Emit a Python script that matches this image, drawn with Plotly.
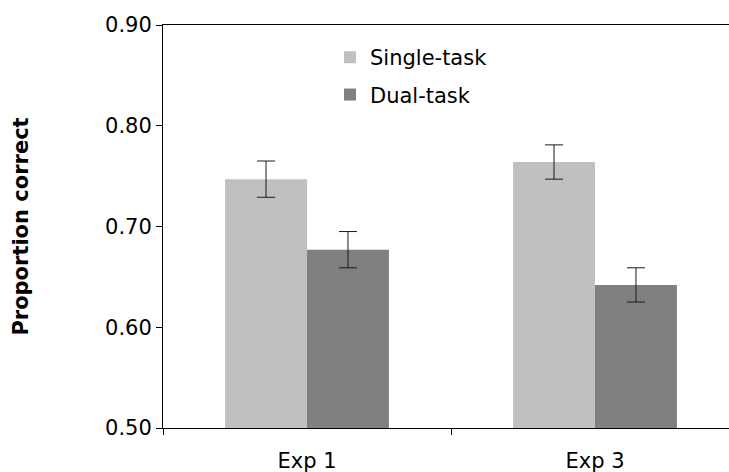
import plotly.graph_objects as go

categories = ["Exp 1", "Exp 3"]
single_task = [0.747, 0.764]
single_err = [0.018, 0.017]
dual_task = [0.677, 0.642]
dual_err = [0.018, 0.017]
y_ticks = [0.50, 0.60, 0.70, 0.80, 0.90]

FONT = "DejaVu Sans, Verdana, sans-serif"
FS = 21

fig = go.Figure()
fig.add_trace(go.Bar(
    x=categories, y=single_task, name="Single-task", legendgroup="s",
    marker=dict(color="#C0C0C0", line=dict(width=0)),
    error_y=dict(type="data", array=single_err, visible=True, color="#1a1a1a", thickness=1, width=9),
))
fig.add_trace(go.Bar(
    x=categories, y=dual_task, name="Dual-task", legendgroup="d",
    marker=dict(color="#808080", line=dict(width=0)),
    error_y=dict(type="data", array=dual_err, visible=True, color="#1a1a1a", thickness=1, width=9),
))

# the reference plot area runs past the right edge of the 729px picture (to ~739px)
W, H = 740, 472
L, T, B, R = 163, 25, 44, 1
plot_w = W - L - R

fig.update_layout(
    width=W, height=H,
    margin=dict(l=L, r=R, t=T, b=B, autoexpand=False),
    paper_bgcolor="white", plot_bgcolor="white",
    font=dict(family=FONT, size=FS, color="black"),
    barmode="group", bargap=0.431, bargroupgap=0,
    showlegend=True,
    legend=dict(x=(330 - L) / plot_w, y=0.97, xanchor="left", yanchor="top",
                bgcolor="rgba(0,0,0,0)", font=dict(size=FS), tracegroupgap=7),
    xaxis=dict(
        type="category", range=[-0.5, 1.5],
        showline=True, linecolor="black", linewidth=1, mirror=True,
        ticks="outside", tickson="boundaries", ticklen=6, tickcolor="black",
        showgrid=False, zeroline=False, automargin=False, ticklabelstandoff=14,
        tickfont=dict(size=FS),
    ),
    yaxis=dict(
        range=[0.5, 0.9], tickvals=y_ticks, tickformat=".2f",
        showline=True, linecolor="black", linewidth=1,
        ticks="outside", ticklen=6, tickcolor="black",
        showgrid=False, zeroline=False, automargin=False,
        tickfont=dict(size=FS),
        title=dict(text="<b>Proportion correct</b>", font=dict(size=FS), standoff=70),
    ),
)

fig.write_html(
    "out.html",
    config={"displayModeBar": False},
    post_script="document.body.style.margin='0';document.body.style.overflow='hidden';",
)
